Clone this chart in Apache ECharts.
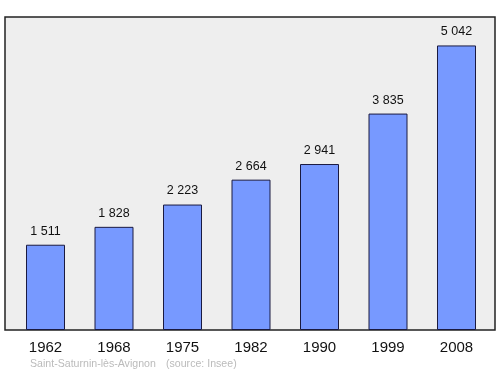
<!DOCTYPE html>
<html><head><meta charset="utf-8">
<script src="https://cdn.jsdelivr.net/npm/echarts@6/dist/echarts.min.js"></script>
<style>html,body{margin:0;padding:0;background:#fff}#c{width:500px;height:374px}</style>
</head><body><div id="c"></div>
<script>
const years = ['1962','1968','1975','1982','1990','1999','2008'];
const population = [1511, 1828, 2223, 2664, 2941, 3835, 5042];
const commune = 'Saint-Saturnin-lès-Avignon';
const source = '(source: Insee)';
const yMax = 5546;

const chart = echarts.init(document.getElementById('c'), null, {renderer: 'canvas'});
chart.setOption({
  animation: false,
  grid: [
    {left: 5, right: 5, top: 17, bottom: 44, show: true, backgroundColor: '#eeeeee', borderColor: '#222', borderWidth: 1.5, z: 0},
    {left: 11.25, right: 9.25, top: 17, bottom: 44}
  ],
  xAxis: [
    {gridIndex: 0, type: 'value', show: false, min: 0, max: 1},
    {gridIndex: 1, type: 'category', data: years, axisLine: {show: false}, axisTick: {show: false},
     axisLabel: {color: '#111', fontSize: 15, fontFamily: 'Liberation Sans', margin: 10}}
  ],
  yAxis: [
    {gridIndex: 0, type: 'value', show: false, min: 0, max: 1},
    {gridIndex: 1, type: 'value', min: 0, max: yMax, show: false}
  ],
  series: [{
    type: 'bar', xAxisIndex: 1, yAxisIndex: 1, data: population, barWidth: 39,
    itemStyle: {color: '#7799ff', borderColor: '#1a1a40', borderWidth: 1},
    label: {show: true, position: 'top', distance: 7, color: '#111', fontSize: 12.5, fontFamily: 'Liberation Sans',
      formatter: p => String(p.value).replace(/\B(?=(\d{3})+(?!\d))/g, ' ')}
  }],
  graphic: [
    {type: 'text', left: 30, top: 359, style: {text: commune, fill: '#bbbbbb', fontSize: 10.6, fontFamily: 'Liberation Sans'}},
    {type: 'text', left: 166, top: 359, style: {text: source, fill: '#bbbbbb', fontSize: 10.6, fontFamily: 'Liberation Sans'}}
  ]
});
</script></body></html>
